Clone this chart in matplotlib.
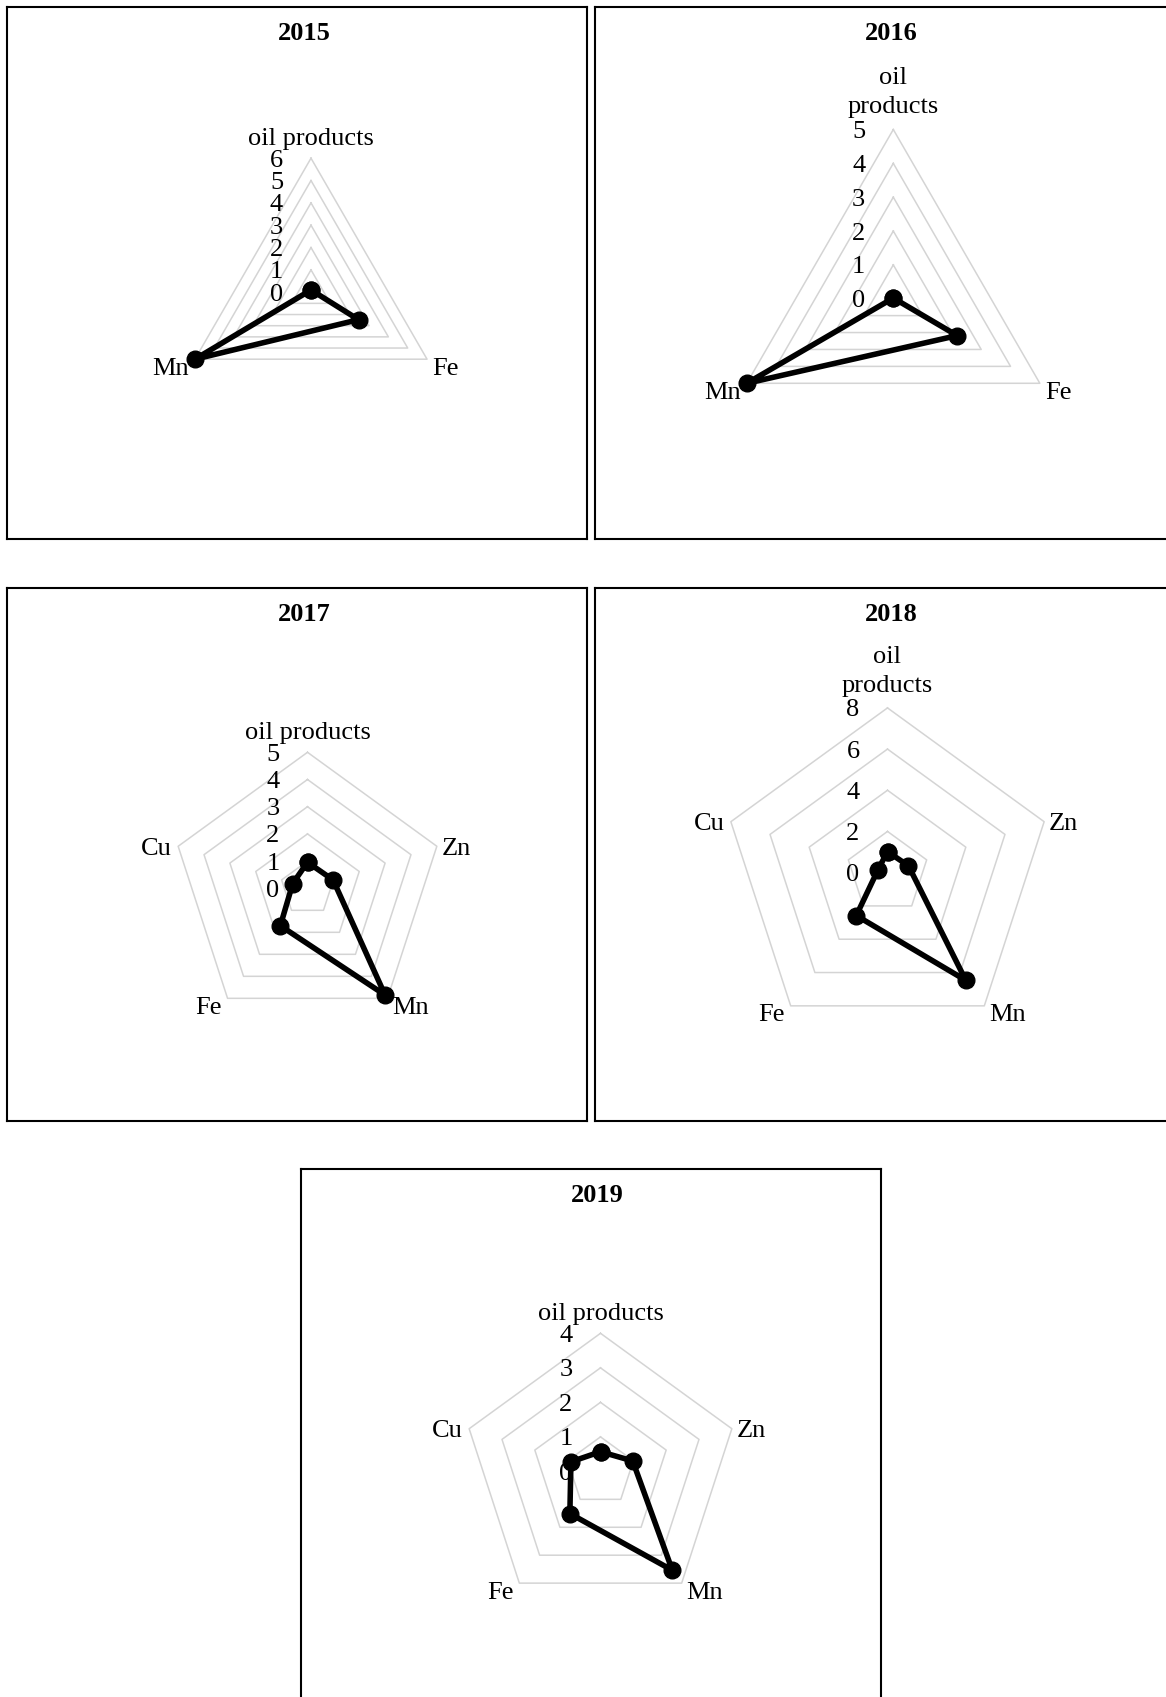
import numpy as np
import matplotlib
matplotlib.use('Agg')
import matplotlib.pyplot as plt

plt.rcParams['font.family'] = ['Liberation Serif', 'DejaVu Serif']

# ---------------- data ----------------
years = ['2015', '2016', '2017', '2018', '2019']

cats_2015 = ['oil products', 'Fe', 'Mn']
vals_2015 = [0.10, 2.46, 6.00]
ticks_2015 = [0, 1, 2, 3, 4, 5, 6]

cats_2016 = ['oil\nproducts', 'Fe', 'Mn']
vals_2016 = [0.02, 2.18, 5.00]
ticks_2016 = [0, 1, 2, 3, 4, 5]

cats_2017 = ['oil products', 'Zn', 'Mn', 'Fe', 'Cu']
vals_2017 = [0.96, 0.99, 4.85, 1.70, 0.57]
ticks_2017 = [0, 1, 2, 3, 4, 5]

cats_2018 = ['oil\nproducts', 'Zn', 'Mn', 'Fe', 'Cu']
vals_2018 = [1.02, 1.07, 6.47, 2.58, 0.48]
ticks_2018 = [0, 2, 4, 6, 8]

cats_2019 = ['oil products', 'Zn', 'Mn', 'Fe', 'Cu']
vals_2019 = [0.57, 0.98, 3.54, 1.51, 0.90]
ticks_2019 = [0, 1, 2, 3, 4]

# ---------------- layout (pixels) ----------------
W, H = 1166, 1697
FS = 19
panels = {  # left, top, width, height
    '2015': (7.3, 6.7, 579.4, 532.3),
    '2016': (595.0, 6.7, 579.4, 532.3),
    '2017': (7.3, 587.7, 579.4, 533.0),
    '2018': (595.0, 587.7, 579.4, 533.0),
    '2019': (301.0, 1169.3, 580.0, 533.0),
}
polar_geom = {  # center x, center y, radius
    '2015': (311.0, 292.2, 134.0),
    '2016': (893.3, 298.7, 169.2),
    '2017': (307.5, 888.3, 136.0),
    '2018': (887.5, 872.6, 164.7),
    '2019': (600.5, 1471.4, 138.1),
}

data = {
    '2015': (cats_2015, vals_2015, ticks_2015),
    '2016': (cats_2016, vals_2016, ticks_2016),
    '2017': (cats_2017, vals_2017, ticks_2017),
    '2018': (cats_2018, vals_2018, ticks_2018),
    '2019': (cats_2019, vals_2019, ticks_2019),
}

fig = plt.figure(figsize=(W / 100, H / 100), dpi=100)

for yr in years:
    l, t, w, h = panels[yr]
    box = fig.add_axes([l / W, 1 - (t + h) / H, w / W, h / H])
    box.set_xticks([])
    box.set_yticks([])
    box.patch.set_alpha(0)
    for s in box.spines.values():
        s.set_linewidth(1.5)
        s.set_color('black')
    fig.text((l + 296.7) / W, 1 - (t + 24.0) / H, yr, ha='center',
             va='center_baseline', fontsize=FS, fontweight='bold')

    cx, cy, R = polar_geom[yr]
    ax = fig.add_axes([(cx - R) / W, 1 - (cy + R) / H, 2 * R / W, 2 * R / H],
                      projection='polar')
    ax.set_theta_offset(np.pi / 2)
    ax.set_theta_direction(-1)
    cats, vals, ticks = data[yr]
    n = len(cats)
    theta = np.arange(n) * 2 * np.pi / n
    theta_c = np.append(theta, theta[0])
    ax.set_ylim(0, ticks[-1])
    ax.set_axis_off()

    # polygon grid rings
    for tv in ticks[1:]:
        ax.plot(theta_c, [tv] * (n + 1), color='#d4d4d4', lw=1.1,
                clip_on=False, zorder=1)

    # radial tick labels
    for tv in ticks:
        ax.annotate(str(tv), xy=(0, tv), xytext=(-28, 0),
                    textcoords='offset pixels', ha='right',
                    va='center_baseline', fontsize=FS,
                    annotation_clip=False, zorder=3)

    # category labels
    for th, c in zip(theta, cats):
        phi = np.pi / 2 - th
        cs, sn = np.cos(phi), np.sin(phi)
        if abs(cs) < 0.1:
            multi = '\n' in c
            ax.annotate(c, xy=(th, ticks[-1]), xytext=(0, 11 if multi else 8),
                        textcoords='offset pixels', ha='center', va='bottom',
                        fontsize=FS, annotation_clip=False, zorder=3,
                        linespacing=1.42)
        else:
            ha = 'left' if cs > 0 else 'right'
            dx = 5 if cs > 0 else -6
            dy = -7 if sn < -0.1 else 0
            ax.annotate(c, xy=(th, ticks[-1]), xytext=(dx, dy),
                        textcoords='offset pixels', ha=ha,
                        va='center_baseline', fontsize=FS,
                        annotation_clip=False, zorder=3)

    # data trace
    vals_c = list(vals) + [vals[0]]
    ax.plot(theta_c, vals_c, color='black', lw=4.0, marker='o',
            markersize=12, clip_on=False, zorder=5,
            solid_joinstyle='miter')

fig.savefig('out.png', dpi=100)
